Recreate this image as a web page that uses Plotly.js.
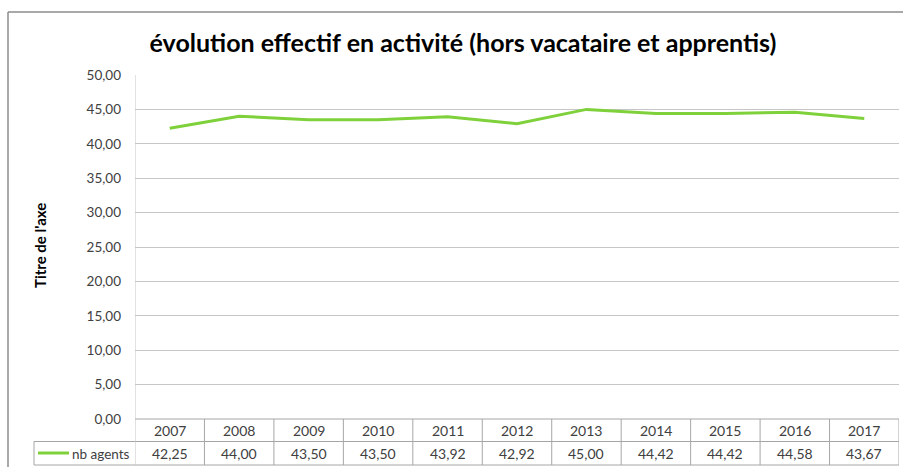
<!DOCTYPE html>
<html>
<head>
<meta charset="utf-8">
<script src="https://cdn.plot.ly/plotly-3.0.1.min.js"></script>
<style>
  html, body { margin: 0; padding: 0; background: #fff; }
  #plotArea { width: 903px; height: 467px; }
</style>
</head>
<body>
<div id="plotArea"></div>
<script>
// data
var years = ["2007", "2008", "2009", "2010", "2011", "2012", "2013", "2014", "2015", "2016", "2017"];
var agents = [42.25, 44.00, 43.50, 43.50, 43.92, 42.92, 45.00, 44.42, 44.42, 44.58, 43.67];
var seriesName = "nb agents";

var green = "#7fd13b";
var gridColor = "#c6c6c6";
var tableColor = "#a6a6a6";
var textColor = "#404040";
var font = "Lato, 'Open Sans', sans-serif";

// pixel geometry of the plot box (top 75, bottom 419)
var plotTop = 75, plotBottom = 419;
function py(Y) { return (plotBottom - Y) / (plotBottom - plotTop); }
function px(X) { return (X - 135) / 764; }

var trace = {
    x: years,
    y: agents,
    type: "scatter",
    mode: "lines",
    name: seriesName,
    line: { color: green, width: 3 },
    hoverinfo: "skip"
};

var fr = function (v) { return v.toFixed(2).replace(".", ","); };

var shapes = [];
var annotations = [];

// table horizontal lines
[py(441.5), py(465)].forEach(function (yy) {
    shapes.push({ type: "line", xref: "paper", yref: "paper",
        x0: px(34), x1: 1, y0: yy, y1: yy,
        line: { color: tableColor, width: 1 } });
});
// x-axis line / top of table
shapes.push({ type: "line", xref: "x", yref: "paper", x0: -0.5, x1: years.length - 0.5,
    y0: 0, y1: 0, line: { color: tableColor, width: 1 } });
// column separators
for (var i = 0; i <= years.length; i++) {
    shapes.push({ type: "line", xref: "x", yref: "paper", x0: i - 0.5, x1: i - 0.5,
        y0: i === 0 ? 1 : 0, y1: py(465), line: { color: i === 0 ? gridColor : tableColor, width: 1 } });
}
// left border of legend cell
shapes.push({ type: "line", xref: "paper", yref: "paper", x0: px(34), x1: px(34),
    y0: py(441.5), y1: py(465), line: { color: tableColor, width: 1 } });
// legend key
shapes.push({ type: "line", xref: "paper", yref: "paper", x0: px(38), x1: px(69),
    y0: py(453), y1: py(453), line: { color: green, width: 3 } });
// outer chart frame
shapes.push({ type: "line", xref: "paper", yref: "paper", x0: px(8), x1: px(8),
    y0: py(12), y1: py(470), line: { color: "#8c8c8c", width: 1.5 } });
shapes.push({ type: "line", xref: "paper", yref: "paper", x0: px(8), x1: px(905),
    y0: py(12), y1: py(12), line: { color: "#8c8c8c", width: 1.5 } });

// data table: category index on the x axis
years.forEach(function (yr, k) {
    annotations.push({ x: k, xref: "x", y: py(430), yref: "paper", text: yr, showarrow: false,
        xanchor: "center", yanchor: "middle", font: { family: font, size: 14, color: textColor } });
    annotations.push({ x: k, xref: "x", y: py(453.5), yref: "paper", text: fr(agents[k]), showarrow: false,
        xanchor: "center", yanchor: "middle", font: { family: font, size: 14, color: textColor } });
});
annotations.push({ x: px(70), xref: "paper", y: py(453.5), yref: "paper", text: seriesName,
    showarrow: false, xanchor: "left", yanchor: "middle", font: { family: font, size: 13.5, color: textColor } });
// axis title
annotations.push({ x: px(40), xref: "paper", y: py(246), yref: "paper", text: "<b>Titre de l'axe</b>",
    textangle: -90, showarrow: false, xanchor: "center", yanchor: "middle",
    font: { family: font, size: 15, color: "#000" } });

var layout = {
    width: 903,
    height: 467,
    margin: { l: 135, r: 4, t: plotTop, b: 467 - plotBottom, pad: 0 },
    paper_bgcolor: "#fff",
    plot_bgcolor: "#fff",
    separators: ", ",
    showlegend: false,
    title: {
        text: "<b>évolution effectif en activité (hors vacataire et apprentis)</b>",
        font: { family: font, size: 25, color: "#000", weight: 900 },
        x: 463 / 903, xanchor: "center", y: 1 - 43 / 467, yanchor: "middle"
    },
    xaxis: {
        type: "category",
        range: [-0.5, years.length - 0.5],
        showticklabels: false,
        showgrid: false,
        zeroline: false,
        fixedrange: true
    },
    yaxis: {
        range: [0, 50],
        dtick: 5,
        tickformat: ".2f",
        showgrid: true,
        gridcolor: gridColor,
        zeroline: false,
        showline: false,
        ticks: "",
        ticklabelstandoff: 13,
        tickfont: { family: font, size: 13.5, color: textColor },
        fixedrange: true
    },
    shapes: shapes,
    annotations: annotations
};

Plotly.newPlot("plotArea", [trace], layout, { displayModeBar: false, staticPlot: true });
</script>
</body>
</html>
